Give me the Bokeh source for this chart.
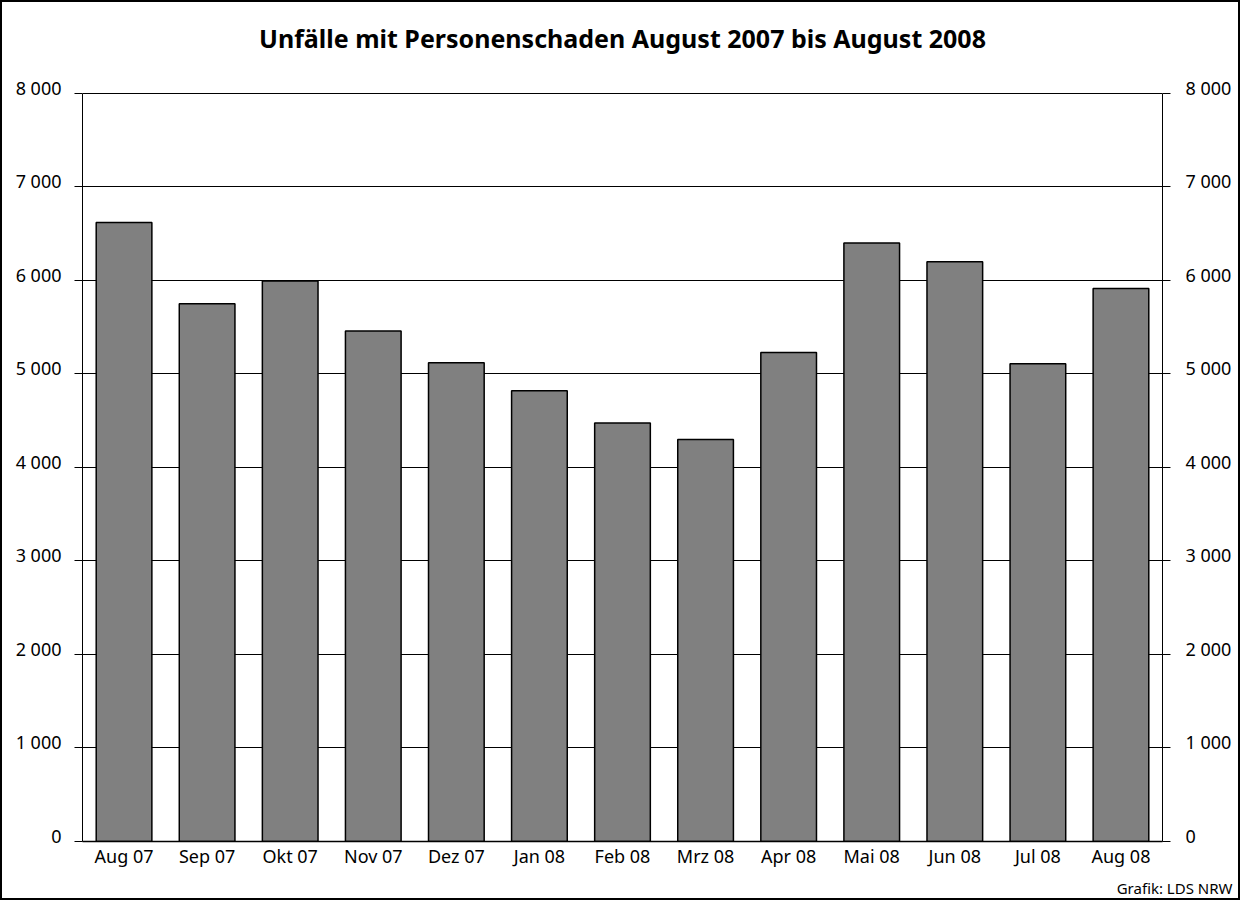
from bokeh.plotting import figure
from bokeh.models import (FixedTicker, LinearAxis, CategoricalAxis, Title, Range1d,
                          FactorRange, ColumnDataSource)
from bokeh.embed import file_html
from bokeh.resources import INLINE

# ---- data ----
months = ["Aug 07", "Sep 07", "Okt 07", "Nov 07", "Dez 07", "Jan 08", "Feb 08",
          "Mrz 08", "Apr 08", "Mai 08", "Jun 08", "Jul 08", "Aug 08"]
values = [6620, 5750, 5995, 5460, 5120, 4820, 4475, 4300, 5230, 6400, 6200, 5110, 5915]
y_ticks = [0, 1000, 2000, 3000, 4000, 5000, 6000, 7000, 8000]
y_tick_labels = ["0", "1 000", "2 000", "3 000", "4 000", "5 000", "6 000", "7 000", "8 000"]
title_text = "Unfälle mit Personenschaden August 2007 bis August 2008"
source_note = "Grafik: LDS NRW"

FONT = "Noto Sans"
Y_MAX = y_ticks[-1]
LIFT = 64  # labels sit slightly above their lines (in value units, ~6px)

bars = ColumnDataSource(dict(month=months, value=values))

p = figure(x_range=FactorRange(factors=months), y_range=Range1d(0, Y_MAX + LIFT),
           width=1240, height=900, output_backend="svg", toolbar_location=None,
           min_border_left=80, min_border_right=80, min_border_top=85, min_border_bottom=61)
p.extra_y_ranges = {"lab": Range1d(-LIFT, Y_MAX)}
p.styles = {"border": "2px solid black"}
p.background_fill_color = "white"
p.border_fill_color = "white"
p.outline_line_color = None

# bottom category axis
xa = p.below[0]
xa.axis_line_color = "black"
xa.axis_line_width = 1.5
xa.major_tick_line_color = None
xa.minor_tick_line_color = None
xa.major_label_text_font = FONT
xa.major_label_text_font_size = "18px"
xa.major_label_text_color = "black"
xa.major_label_standoff = -4

# invisible spacer between frame and title
spacer = CategoricalAxis()
spacer.axis_line_color = None
spacer.major_tick_line_color = None
spacer.minor_tick_line_color = None
spacer.major_tick_out = 28
spacer.major_tick_in = 0
spacer.major_label_text_color = None
spacer.major_label_text_font_size = "0px"
spacer.major_label_standoff = 0
p.add_layout(spacer, "above")

title = Title(text=title_text, align="center", text_font=FONT, text_font_size="25px",
              text_font_style="bold", text_color="black", standoff=10)
p.add_layout(title, "above")

p.vbar(x="month", top="value", width=0.67, source=bars, fill_color="#808080",
       line_color="black", line_width=1.5)

# grid
p.xgrid.visible = False
p.ygrid.ticker = FixedTicker(ticks=y_ticks)
p.ygrid.grid_line_color = "black"
p.ygrid.grid_line_width = 1
p.ygrid.grid_line_alpha = 1

# y axes: tick-only axes next to the frame
ya = p.left[0]
ra = LinearAxis()
p.add_layout(ra, "right")
for ax in (ya, ra):
    ax.ticker = FixedTicker(ticks=y_ticks)
    ax.bounds = (y_ticks[0], Y_MAX)
    ax.axis_line_color = "black"
    ax.axis_line_width = 1
    ax.major_tick_out = 8
    ax.major_tick_in = 0
    ax.major_tick_line_color = "black"
    ax.minor_tick_line_color = None
    ax.major_label_text_color = None
    ax.major_label_text_font_size = "0px"
    ax.major_label_standoff = 0

# label-only axes (on a range lifted slightly so labels sit on the lines)
overrides = {t: lab for t, lab in zip(y_ticks, y_tick_labels)}
for side, standoff in (("left", 13), ("right", 15)):
    la = LinearAxis(y_range_name="lab", ticker=FixedTicker(ticks=y_ticks),
                    major_label_overrides=overrides)
    la.axis_line_color = None
    la.major_tick_line_color = None
    la.minor_tick_line_color = None
    la.major_tick_out = 0
    la.major_tick_in = 0
    la.major_label_standoff = standoff
    la.major_label_text_font = FONT
    la.major_label_text_font_size = "18px"
    la.major_label_text_color = "black"
    p.add_layout(la, side)

note = Title(text=source_note, align="right", text_font=FONT, text_font_size="15px",
             text_font_style="normal", text_color="black", offset=-70, standoff=10)
p.add_layout(note, "below")

open("out.html", "w").write(file_html(p, INLINE))
